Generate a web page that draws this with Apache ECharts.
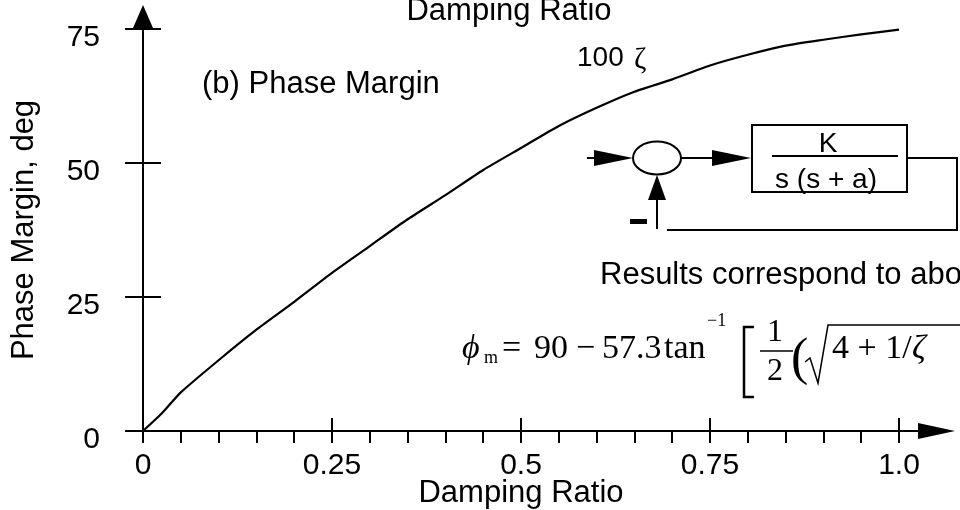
<!DOCTYPE html>
<html><head><meta charset="utf-8">
<script src="https://cdn.jsdelivr.net/npm/echarts@6/dist/echarts.min.js"></script>
<style>html,body{margin:0;padding:0;background:#fff}#c{width:960px;height:510px}</style>
</head><body><div id="c"></div>
<script>
const dampingRatio = [0,0.025,0.05,0.1,0.15,0.2,0.25,0.3,0.35,0.4,0.45,0.5,0.55,0.6,0.65,0.7,0.75,0.8,0.85,0.9,0.95,1.0];
const phaseMargin  = [0,3.3,7.2,13.2,18.9,24.1,29.5,34.5,39.5,44.0,48.7,52.8,56.9,60.3,63.3,65.6,68.2,70.2,71.9,73.0,74.0,74.9];
const xTickLabels = ['0','0.25','0.5','0.75','1.0'];
const yTickLabels = ['0','25','50','75'];

const SANS = '"Liberation Sans", Arial, Helvetica, sans-serif';
const SERIF = '"Liberation Serif", "Times New Roman", serif';
const FS = 30;

const chart = echarts.init(document.getElementById('c'), null, {renderer:'canvas'});
const tickStyle = {color:'#000', width:2};
const option = {
  animation:false,
  backgroundColor:'#fff',
  grid:{left:143, right:61, top:29, bottom:79, containLabel:false, outerBoundsMode:'none'},
  xAxis:[{
    type:'value', min:0, max:1, interval:0.25, position:'bottom',
    axisLine:{show:true, lineStyle:{color:'#000', width:2}},
    axisTick:{show:true, inside:false, length:12, lineStyle:tickStyle},
    minorTick:{show:true, splitNumber:5, length:12, lineStyle:tickStyle},
    splitLine:{show:false}, minorSplitLine:{show:false},
    axisLabel:{color:'#000', fontFamily:SANS, fontSize:FS, margin:20,
      formatter:v=>xTickLabels[Math.round(v/0.25)]},
    name:'Damping Ratio', nameLocation:'middle', nameGap:47, nameMoveOverlap:false,
    nameTextStyle:{color:'#000', fontFamily:SANS, fontSize:31}
  },{
    type:'value', min:0, max:1, interval:0.25, position:'bottom',
    axisLine:{show:false},
    axisTick:{show:true, inside:true, length:13, lineStyle:tickStyle},
    axisLabel:{show:false}, splitLine:{show:false}
  }],
  yAxis:[{
    type:'value', min:0, max:75, interval:25, position:'left',
    axisLine:{show:true, lineStyle:{color:'#000', width:2}},
    axisTick:{show:true, inside:false, length:18, lineStyle:tickStyle},
    splitLine:{show:false},
    axisLabel:{color:'#000', fontFamily:SANS, fontSize:FS, margin:43,
      verticalAlign:'top', lineHeight:18,
      formatter:v=>yTickLabels[Math.round(v/25)]},
    name:'Phase Margin, deg', nameLocation:'middle', nameGap:103, nameRotate:90, nameMoveOverlap:false,
    nameTextStyle:{color:'#000', fontFamily:SANS, fontSize:31}
  },{
    type:'value', min:0, max:75, interval:25, position:'left',
    axisLine:{show:false},
    axisTick:{show:true, inside:true, length:18, lineStyle:tickStyle},
    axisLabel:{show:false}, splitLine:{show:false}
  }],
  series:[{
    type:'line', xAxisIndex:0, yAxisIndex:0,
    data:dampingRatio.map((d,i)=>[d, phaseMargin[i]]),
    smooth:0.2, showSymbol:false, symbol:'none',
    lineStyle:{color:'#000', width:2.2}
  }]
};
chart.setOption(option);

const xe = chart.convertToPixel({gridIndex:0}, [1,0]);
const ye = chart.convertToPixel({gridIndex:0}, [0,75]);
const L = {stroke:'#000', lineWidth:2, fill:'none'};
const txt = (t,x,y,font,align)=>({type:'text', style:{text:t, x:x, y:y, font:font, fill:'#000', align:align||'left', verticalAlign:'middle'}});
const graphic = [
  // axis arrows
  {type:'line', shape:{x1:xe[0], y1:xe[1], x2:xe[0]+22, y2:xe[1]}, style:L},
  {type:'polygon', shape:{points:[[xe[0]+19,xe[1]-8],[xe[0]+56,xe[1]],[xe[0]+19,xe[1]+8]]}, style:{fill:'#000'}},
  {type:'polygon', shape:{points:[[ye[0]-10,ye[1]-1],[ye[0],ye[1]-24],[ye[0]+10,ye[1]-1]]}, style:{fill:'#000'}},
  // texts
  txt('Damping Ratio', 509, 11, '31px '+SANS, 'center'),
  txt('(b) Phase Margin', 202, 84, '31px '+SANS),
  txt('100', 577, 58, '28px '+SANS),
  txt('ζ', 634, 60, '30px '+SERIF),
  // block diagram
  {type:'line', shape:{x1:587, y1:158, x2:600, y2:158}, style:L},
  {type:'polygon', shape:{points:[[594,150],[633,158],[594,166]]}, style:{fill:'#000'}},
  {type:'ellipse', shape:{cx:657, cy:158, rx:24, ry:16.5}, style:L},
  {type:'line', shape:{x1:681, y1:158, x2:715, y2:158}, style:L},
  {type:'polygon', shape:{points:[[712,150],[751,158],[712,166]]}, style:{fill:'#000'}},
  {type:'rect', shape:{x:752, y:125, width:155, height:67}, style:L},
  txt('K', 828, 144, '28px '+SANS, 'center'),
  {type:'line', shape:{x1:772, y1:156, x2:898, y2:156}, style:L},
  txt('s (s + a)', 826, 180, '28px '+SANS, 'center'),
  {type:'polyline', shape:{points:[[907,158],[957,158],[957,230],[667,230]]}, style:L},
  {type:'line', shape:{x1:657, y1:229, x2:657, y2:195}, style:L},
  {type:'polygon', shape:{points:[[648,200],[657,175],[666,200]]}, style:{fill:'#000'}},
  {type:'rect', shape:{x:630, y:219, width:17, height:5}, style:{fill:'#000'}},
  // results text and formula
  txt('Results correspond to above', 600, 275, '31px '+SANS),
  txt('ϕ', 462, 349, 'italic 34px '+SERIF),
  txt('m', 484, 358, '18px '+SERIF),
  txt('=', 502, 349, '34px '+SERIF),
  txt('90', 534, 349, '34px '+SERIF),
  txt('−', 576, 349, '34px '+SERIF),
  txt('57.3', 602, 349, '34px '+SERIF),
  txt('tan', 664, 349, '34px '+SERIF),
  txt('−1', 707, 321, '18px '+SERIF),
  {type:'polyline', shape:{points:[[754,327],[744,327],[744,397],[754,397]]}, style:{stroke:'#000', lineWidth:2.5, fill:'none'}},
  txt('1', 775, 333, '32px '+SERIF, 'center'),
  {type:'line', shape:{x1:760, y1:351, x2:793, y2:351}, style:{stroke:'#000', lineWidth:1.5}},
  txt('2', 775, 372, '32px '+SERIF, 'center'),
  txt('(', 791, 360, '52px '+SERIF),
  {type:'polyline', shape:{points:[[805,362],[810,358],[818,383],[828,325],[960,325]]}, style:{stroke:'#000', lineWidth:1.5, fill:'none'}},
  txt('4 + 1/', 832, 349, '34px '+SERIF),
  txt('ζ', 912, 349, 'italic 34px '+SERIF)
];
chart.setOption({graphic:graphic});
</script></body></html>
